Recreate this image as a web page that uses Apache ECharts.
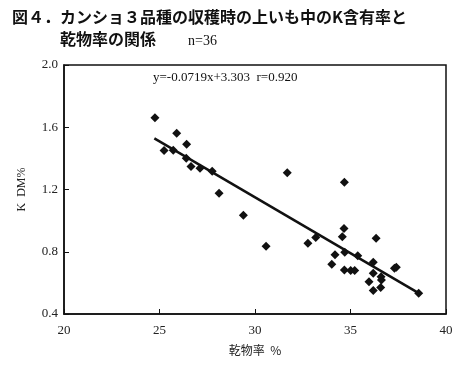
<!DOCTYPE html>
<html><head><meta charset="utf-8">
<script src="https://cdn.jsdelivr.net/npm/echarts@6/dist/echarts.min.js"></script>
<style>html,body{margin:0;padding:0;background:#fff}#c{width:469px;height:368px}</style>
</head><body><div id="c"></div>
<script>
const dryMatter = [24.76,25.24,25.72,25.90,26.42,26.40,26.65,27.12,27.76,28.12,29.39,
  30.58,31.69,32.77,33.18,34.02,34.19,34.57,34.66,34.68,34.68,34.70,35.01,35.22,35.38,
  35.97,36.19,36.19,36.19,36.34,36.58,36.60,36.62,37.30,37.40,38.57];
const kContent = [1.661,1.450,1.452,1.561,1.491,1.401,1.347,1.337,1.317,1.176,1.035,
  0.836,1.308,0.855,0.891,0.720,0.780,0.897,0.949,1.247,0.683,0.797,0.679,0.679,0.775,
  0.608,0.733,0.662,0.551,0.887,0.570,0.640,0.619,0.694,0.700,0.534];
const fitX = [24.73, 38.57];
const fitY = [1.529, 0.534];
const xTicks = [20,25,30,35,40];
const yTicks = [0.4,0.8,1.2,1.6,2.0];
const titleLine1 = '図４．カンショ３品種の収穫時の上いも中のK含有率と';
const titleLine2 = '乾物率の関係';
const nText = 'n=36';
const eqText = 'y=-0.0719x+3.303  r=0.920';

const serif = '"Liberation Serif","DejaVu Serif",serif';
const chart = echarts.init(document.getElementById('c'));
chart.setOption({
  animation:false,
  backgroundColor:'#fff',
  title:[
    {text:titleLine1,left:7,top:4,textStyle:{fontFamily:'"Noto Sans CJK JP"',fontSize:16,fontWeight:'bold',color:'#111'}},
    {text:titleLine2,left:55,top:26,textStyle:{fontFamily:'"Noto Sans CJK JP"',fontSize:16,fontWeight:'bold',color:'#111'}},
    {text:nText,left:183,top:29,textStyle:{fontFamily:serif,fontSize:14,fontWeight:'normal',color:'#111'}},
    {text:eqText,left:148,top:66,textStyle:{fontFamily:serif,fontSize:13,fontWeight:'normal',color:'#111'}}
  ],
  grid:{left:64,right:23,top:65,bottom:54,show:true,borderColor:'#111',borderWidth:1.5,backgroundColor:'transparent'},
  xAxis:{type:'value',min:20,max:40,interval:5,
    name:'乾物率  %',nameLocation:'middle',nameGap:30,
    nameTextStyle:{fontFamily:'"Noto Sans CJK JP"',fontSize:12,color:'#222'},
    axisLine:{show:true,lineStyle:{color:'#111',width:1.5}},
    axisTick:{show:true,inside:true,length:5,lineStyle:{color:'#111'}},
    axisLabel:{fontFamily:serif,fontSize:13,color:'#222',margin:10,
      formatter:v=>xTicks.includes(v)?String(v):''},
    splitLine:{show:false}},
  yAxis:{type:'value',min:0.4,max:2.0,interval:0.4,
    name:'K  DM%',nameLocation:'middle',nameGap:36,
    nameTextStyle:{fontFamily:serif,fontSize:12,color:'#222'},
    axisLine:{show:true,lineStyle:{color:'#111',width:1.5}},
    axisTick:{show:true,inside:true,length:5,lineStyle:{color:'#111'}},
    axisLabel:{fontFamily:serif,fontSize:13,color:'#222',margin:6,
      formatter:v=>{const t=yTicks.find(y=>Math.abs(y-v)<1e-6);return t!==undefined?t.toFixed(1):'';}},
    splitLine:{show:false}},
  series:[
    {type:'line',data:fitX.map((x,i)=>[x,fitY[i]]),symbol:'none',
      lineStyle:{color:'#111',width:2.5},z:2},
    {type:'scatter',data:dryMatter.map((x,i)=>[x,kContent[i]]),symbol:'diamond',symbolSize:9,
      itemStyle:{color:'#111',opacity:1},z:3}
  ]
});
</script></body></html>
